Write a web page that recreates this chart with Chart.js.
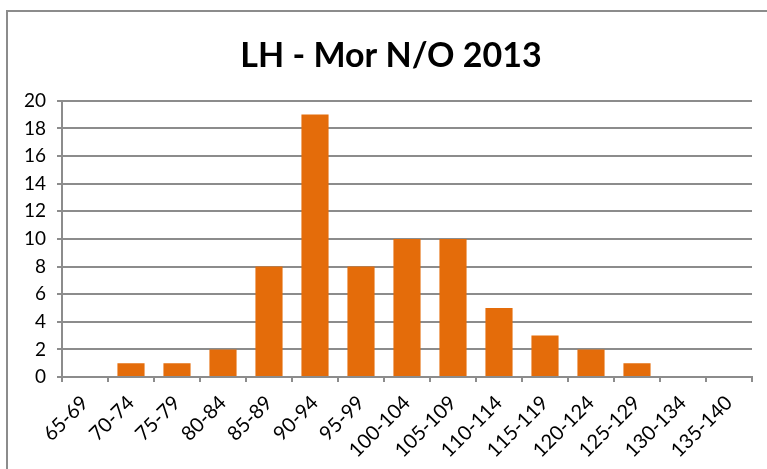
<!DOCTYPE html>
<html>
<head>
<meta charset="utf-8">
<script src="https://cdn.jsdelivr.net/npm/chart.js@4"></script>
<style>
    html, body { margin: 0; padding: 0; background: #fff; overflow: hidden; }
    #wrap { width: 767px; height: 469px; overflow: hidden; }
</style>
</head>
<body>
<div id="wrap"><canvas id="myChart" width="775" height="469"></canvas></div>
<script>
const labels = ["65-69", "70-74", "75-79", "80-84", "85-89", "90-94", "95-99",
    "100-104", "105-109", "110-114", "115-119", "120-124", "125-129", "130-134", "135-140"];
const values = [0, 1, 1, 2, 8, 19, 8, 10, 10, 5, 3, 2, 1, 0, 0];
const yTicks = [0, 2, 4, 6, 8, 10, 12, 14, 16, 18, 20];

const ctx = document.getElementById('myChart');

const outerBorder = {
    id: 'outerBorder',
    beforeDraw(chart) {
        const c = chart.ctx;
        c.save();
        c.strokeStyle = "#8c8c8c";
        c.lineWidth = 2;
        c.beginPath();
        c.moveTo(7, 480);
        c.lineTo(7, 11);
        c.lineTo(800, 11);
        c.stroke();
        c.restore();
    }
};

new Chart(ctx, {
    type: 'bar',
    data: {
        labels: labels,
        datasets: [{
            label: "LH",
            data: values,
            backgroundColor: "#E46C0A",
            borderWidth: 0,
            barPercentage: 0.59,
            categoryPercentage: 1,
        }]
    },
    plugins: [outerBorder],
    options: {
        responsive: false,
        animation: false,
        layout: {
            padding: { left: 7, right: 0, top: 0, bottom: 0 }
        },
        plugins: {
            legend: { display: false },
            tooltip: { enabled: false },
            title: {
                display: true,
                text: "LH - Mor N/O 2013",
                color: "#000",
                font: { family: "Lato", size: 34, weight: "bold", lineHeight: 1.2 },
                padding: { top: 36, bottom: 24 }
            }
        },
        scales: {
            x: {
                offset: true,
                afterFit: (scale) => { scale.height = 92; },
                grid: {
                    offset: true,
                    drawOnChartArea: false,
                    drawTicks: true,
                    tickLength: 5,
                    color: "#8c8c8c",
                    lineWidth: 2,
                },
                border: { color: "#8c8c8c", width: 2 },
                ticks: {
                    color: "#000",
                    minRotation: 45,
                    maxRotation: 45,
                    autoSkip: false,
                    padding: 9,
                    font: { family: "Lato", size: 20 }
                }
            },
            y: {
                min: 0,
                max: 20,
                afterFit: (scale) => { scale.width = 55; },
                afterBuildTicks: (scale) => { scale.ticks = yTicks.map(v => ({ value: v })); },
                grid: {
                    color: "#8c8c8c",
                    lineWidth: 2,
                    drawTicks: true,
                    tickLength: 5,
                },
                border: { color: "#8c8c8c", width: 2 },
                ticks: {
                    color: "#000",
                    padding: 11,
                    font: { family: "Lato", size: 19 }
                }
            },
            // empty right-hand spacer so the plot stops where the reference's does
            spacer: {
                position: 'right',
                min: 0,
                max: 20,
                afterFit: (scale) => { scale.width = 23; },
                grid: { display: false },
                border: { display: false },
                ticks: { display: false }
            }
        }
    }
});
</script>
</body>
</html>
